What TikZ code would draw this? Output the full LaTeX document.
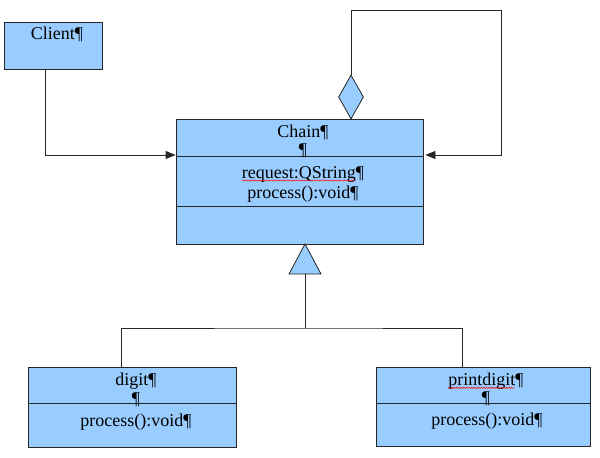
\documentclass[tikz,border=0pt]{standalone}
\usepackage{fontspec}
\setmainfont{Liberation Serif}
\usetikzlibrary{arrows.meta,shapes.geometric,decorations.pathmorphing}
\definecolor{umlblue}{HTML}{99CCFF}
\definecolor{umlline}{HTML}{262626}
\begin{document}
\begin{tikzpicture}[x=1pt,y=-1pt,
  umlbox/.style={draw=umlline,fill=umlblue,line width=0.8pt,inner sep=0pt},
  lbl/.style={inner sep=0pt,font=\fontsize{18}{20}\selectfont},
  conn/.style={draw=umlline,line width=0.8pt},
  arr/.style={-{Triangle[length=10pt,width=8pt]}},
  spell/.style={red,line width=0.5pt,decorate,decoration={snake,amplitude=0.6pt,segment length=2.5pt}}]
\useasboundingbox (0,0) rectangle (600,458);
% boxes
\node[umlbox,minimum width=98pt,minimum height=47pt] (client) at (53.5,45.5) {};
\node[umlbox,minimum width=247pt,minimum height=125pt] (chain) at (299.5,181.5) {};
\node[umlbox,minimum width=208pt,minimum height=80pt] (digit) at (132,407) {};
\node[umlbox,minimum width=214pt,minimum height=79pt] (printdigit) at (483,406.5) {};
\node[umlbox,diamond,minimum width=25pt,minimum height=44pt] (agg) at (351,97) {};
% compartments
\draw[conn] (chain.west |- 0,156) -- (chain.east |- 0,156);
\draw[conn] (chain.west |- 0,206) -- (chain.east |- 0,206);
\draw[conn] (digit.west |- 0,403) -- (digit.east |- 0,403);
\draw[conn] (printdigit.west |- 0,403) -- (printdigit.east |- 0,403);
% texts
\node[lbl] (tclient) at (57,34) {Client¶};
\node[lbl] (tchain) at (303,132) {Chain¶};
\node[lbl] (tchainp) at (303,151) {¶};
\node[lbl] (treq) at (303,174) {request:QString¶};
\node[lbl] (tproc) at (303,194) {process():void¶};
\node[lbl] (tdigit) at (136,381) {digit¶};
\node[lbl] (tdigitp) at (136,400) {¶};
\node[lbl] (tdproc) at (136,422) {process():void¶};
\node[lbl] (tpd) at (486,381) {printdigit¶};
\node[lbl] (tpdp) at (486,399) {¶};
\node[lbl] (tpdproc) at (487,421) {process():void¶};
% spell-check marks
\draw[spell] ([yshift=-2.5pt]treq.base west) -- ([xshift=-9pt,yshift=-2.5pt]treq.base east);
\draw[spell] ([yshift=-2.5pt]tpd.base west) -- ([xshift=-9pt,yshift=-2.5pt]tpd.base east);
% client -> chain
\draw[conn,arr] ([xshift=-8.5pt]client.south) |- (chain.west |- 0,155);
% self aggregation
\coordinate (loopc) at (501,10);
\draw[conn,arr] (agg.north) |- (loopc) |- ([xshift=2pt]chain.east |- 0,155);
% generalization
\coordinate (apex) at (305,244);
\path (apex) ++(0,30) coordinate (tribase);
\draw[conn,fill=umlblue] (apex) -- ++(16,30) -- ++(-32,0) -- cycle;
\path (tribase) ++(0,54) coordinate (junc);
\draw[conn] (tribase) -- (junc);
\draw[conn] (digit.north -| 121,0) |- (junc) -| (printdigit.north -| 462,0);
\end{tikzpicture}
\end{document}
